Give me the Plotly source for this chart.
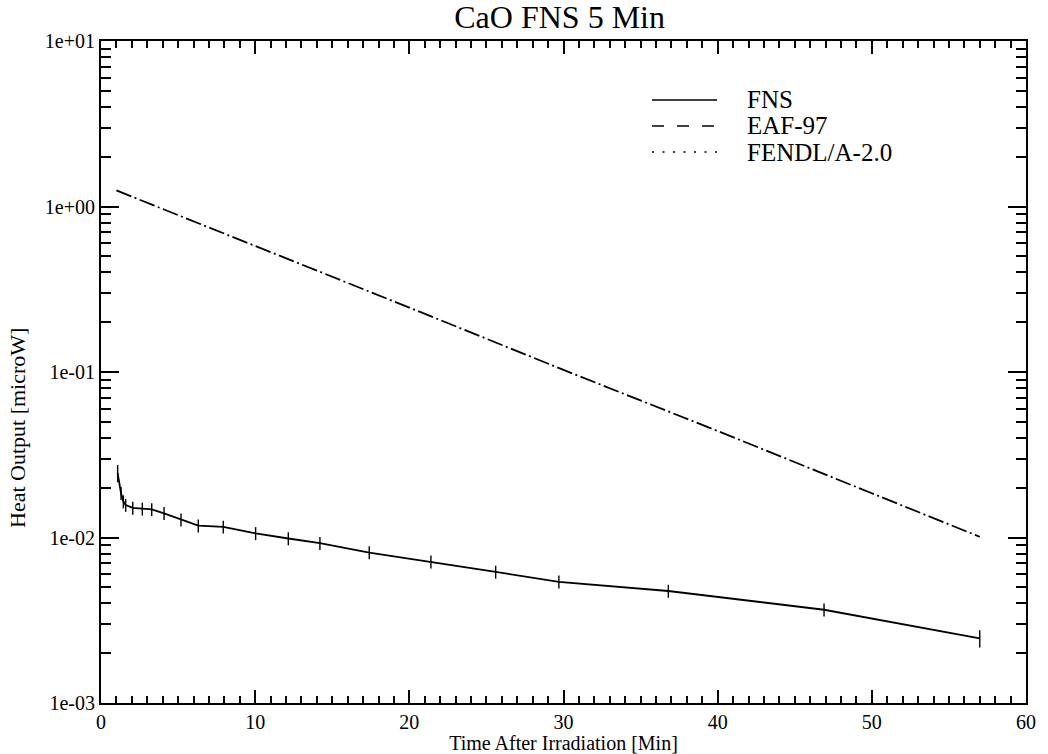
import plotly.graph_objects as go

# ---- data ----
fns_t = [1.08, 1.30, 1.45, 1.60, 2.06, 2.68, 3.29, 4.09, 5.19, 6.31, 7.93,
         10.03, 12.15, 14.2, 17.4, 21.4, 25.6, 29.7, 36.8, 46.9, 57.0]
fns_v = [0.0245, 0.0185, 0.0165, 0.0157, 0.0151, 0.0149, 0.0148, 0.0140, 0.0128,
         0.0118, 0.0116, 0.0106, 0.00986, 0.00925, 0.00811, 0.00713, 0.0062,
         0.0054, 0.00475, 0.00366, 0.00246]
fns_err_pct = [12, 9, 9, 9, 9, 9, 9, 9, 9, 9, 9, 9, 9, 9, 9, 9, 9, 9, 9, 9, 12]

eaf_t = [1.0, 10.0, 20.0, 30.0, 40.0, 50.0, 57.0]
eaf_v = [1.25, 0.58, 0.245, 0.103, 0.044, 0.0185, 0.0101]

fendl_t = [1.0, 10.0, 20.0, 30.0, 40.0, 50.0, 57.0]
fendl_v = [1.25, 0.58, 0.245, 0.103, 0.044, 0.0185, 0.0101]

series_names = ["FNS", "EAF-97", "FENDL/A-2.0"]

y_tickvals = [1e-3, 1e-2, 1e-1, 1e0, 1e1]
y_ticktext = ["1e-03", "1e-02", "1e-01", "1e+00", "1e+01"]

FONT = "Liberation Serif, Times New Roman, serif"

fns_err = [v * p / 100 for v, p in zip(fns_v, fns_err_pct)]

# ---- plot-area geometry (pixels) ----
W, H = 1048, 754
L, R, T, B = 101, 22, 41, 51
PW, PH = W - L - R, H - T - B


def px(xp):
    return (xp - L) / PW


def py(yp):
    return (H - B - yp) / PH


fig = go.Figure()
fig.add_trace(go.Scatter(
    x=fns_t, y=fns_v, mode="lines", name=series_names[0], showlegend=False,
    line=dict(color="black", width=1.8),
    error_y=dict(type="data", array=fns_err, visible=True, width=0,
                 thickness=1.4, color="black"),
))
fig.add_trace(go.Scatter(
    x=eaf_t, y=eaf_v, mode="lines", name=series_names[1], showlegend=False,
    line=dict(color="black", width=1.8, dash="16px,9px"),
))
fig.add_trace(go.Scatter(
    x=fendl_t, y=fendl_v, mode="lines", name=series_names[2], showlegend=False,
    line=dict(color="black", width=1.8, dash="0px,19.5px,2px,3.5px"),
))

minor_y = [k * 10 ** e for e in range(-3, 1) for k in range(2, 10)]

# ---- legend drawn in the reference's style ----
leg_rows = [100, 126, 152]
leg_dash = ["solid", "12px,13px", "2px,8.5px"]
shapes = []
annotations = []
for name, yr, dsh in zip(series_names, leg_rows, leg_dash):
    shapes.append(dict(type="line", xref="paper", yref="paper",
                       x0=px(652), x1=px(717), y0=py(yr), y1=py(yr),
                       line=dict(color="black", width=1.6, dash=dsh)))
    annotations.append(dict(text=name, xref="paper", yref="paper",
                            x=px(745), y=py(yr), xanchor="left", yanchor="middle",
                            showarrow=False,
                            font=dict(family=FONT, size=25, color="black")))
# y-axis title (placed as in the reference, slightly below centre)
annotations.append(dict(text="Heat Output [microW]", xref="paper", yref="paper",
                        x=px(17), y=py(428), xanchor="center", yanchor="middle",
                        textangle=-90, showarrow=False,
                        font=dict(family=FONT, size=22, color="black")))

fig.update_layout(
    width=W, height=H,
    margin=dict(l=L, r=R, t=T, b=B, autoexpand=False),
    paper_bgcolor="white", plot_bgcolor="white",
    font=dict(family=FONT, color="black", size=20),
    title=dict(text="CaO FNS 5 Min", x=0.534, xanchor="center", y=0.993,
               yanchor="top", font=dict(family=FONT, size=32, color="black")),
    showlegend=False,
    shapes=shapes,
    annotations=annotations,
    xaxis=dict(
        range=[0, 60], tickmode="linear", tick0=0, dtick=10,
        ticks="inside", ticklen=13, tickwidth=2, tickcolor="black",
        showline=True, linecolor="black", linewidth=2, mirror="ticks",
        showgrid=False, zeroline=False,
        tickfont=dict(family=FONT, size=20),
        minor=dict(tickmode="linear", dtick=1, ticks="inside", ticklen=7,
                   tickwidth=2, tickcolor="black"),
        title=dict(text="Time After Irradiation [Min]", standoff=2,
                   font=dict(family=FONT, size=20)),
    ),
    yaxis=dict(
        type="log", range=[-3, 1], tickmode="array", tickvals=y_tickvals,
        ticktext=y_ticktext,
        ticks="inside", ticklen=18, tickwidth=2, tickcolor="black",
        showline=True, linecolor="black", linewidth=2, mirror="ticks",
        showgrid=False, zeroline=False,
        tickfont=dict(family=FONT, size=20),
        minor=dict(tickmode="array", tickvals=minor_y, ticks="inside",
                   ticklen=10, tickwidth=2, tickcolor="black"),
    ),
)

fig.write_html("out.html")
